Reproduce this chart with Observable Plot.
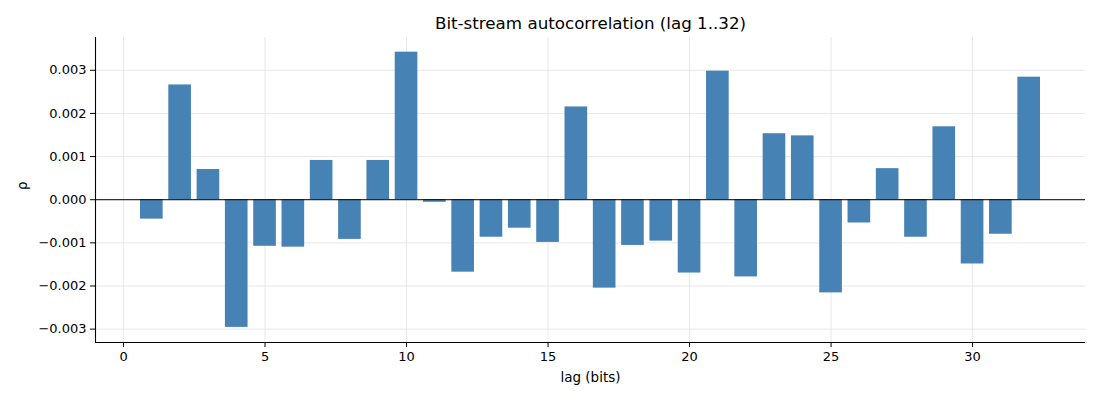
<!DOCTYPE html>
<html>
<head>
<meta charset="utf-8">
<script src="https://cdn.jsdelivr.net/npm/d3@7"></script>
<script src="https://cdn.jsdelivr.net/npm/@observablehq/plot@0.6"></script>
<style>
  html, body { margin: 0; padding: 0; background: #fff; }
  #chart svg { display: block; }
</style>
</head>
<body>
<div id="chart"></div>
<script>
const lags = [1,2,3,4,5,6,7,8,9,10,11,12,13,14,15,16,17,18,19,20,21,22,23,24,25,26,27,28,29,30,31,32];
const rho = [
  -0.00045, 0.00266, 0.00070, -0.00296, -0.00108, -0.00110, 0.00091, -0.00092,
   0.00091, 0.00342, -0.00006, -0.00168, -0.00087, -0.00066, -0.00099, 0.00215,
  -0.00205, -0.00106, -0.00096, -0.00170, 0.00298, -0.00179, 0.00153, 0.00148,
  -0.00216, -0.00054, 0.00072, -0.00087, 0.00169, -0.00149, -0.00080, 0.00284
];
const xTicks = [0, 5, 10, 15, 20, 25, 30];
const yTicks = [-0.003, -0.002, -0.001, 0, 0.001, 0.002, 0.003];
const xDomain = [-0.99, 33.99];
const yDomain = [-0.00331, 0.00376];
const titleText = "Bit-stream autocorrelation (lag 1..32)";
const xLabel = "lag (bits)";
const yLabel = "ρ";

const data = lags.map((lag, i) => ({lag, rho: rho[i]}));
const fmt = d3.format(".3f");

const chart = Plot.plot({
  width: 1100,
  height: 400,
  marginLeft: 95,
  marginRight: 15,
  marginTop: 37,
  marginBottom: 58,
  style: {fontFamily: "DejaVu Sans", fontSize: "13px", color: "#000", background: "#fff"},
  x: {domain: xDomain},
  y: {domain: yDomain},
  marks: [
    Plot.gridX(xTicks, {stroke: "#e2e2e2", strokeOpacity: 1, strokeWidth: 0.8}),
    Plot.gridY(yTicks, {stroke: "#e2e2e2", strokeOpacity: 1, strokeWidth: 0.8}),
    Plot.rect(data, {
      x1: d => d.lag - 0.4,
      x2: d => d.lag + 0.4,
      y1: 0,
      y2: "rho",
      fill: "steelblue"
    }),
    Plot.ruleY([0], {stroke: "#000", strokeWidth: 1}),
    Plot.ruleX([xDomain[0]], {stroke: "#000", strokeWidth: 1.1}),
    Plot.ruleY([yDomain[0]], {stroke: "#000", strokeWidth: 1.1}),
    Plot.axisX(xTicks, {tickSize: 5, tickPadding: 4, label: null, stroke: "#000", fill: "#000", strokeOpacity: 1}),
    Plot.axisY(yTicks, {tickSize: 5, tickPadding: 4, label: null, tickFormat: fmt, stroke: "#000", fill: "#000", strokeOpacity: 1}),
    Plot.text([titleText], {frameAnchor: "top", lineAnchor: "middle", dy: -14, fontSize: 16.7, fill: "#000"}),
    Plot.text([xLabel], {frameAnchor: "bottom", lineAnchor: "middle", dy: 35, fontSize: 13.5, fill: "#000"}),
    Plot.text([yLabel], {frameAnchor: "left", lineAnchor: "middle", dx: -73, rotate: -90, fontSize: 13.5, fill: "#000"})
  ]
});
document.getElementById("chart").appendChild(chart);
</script>
</body>
</html>
